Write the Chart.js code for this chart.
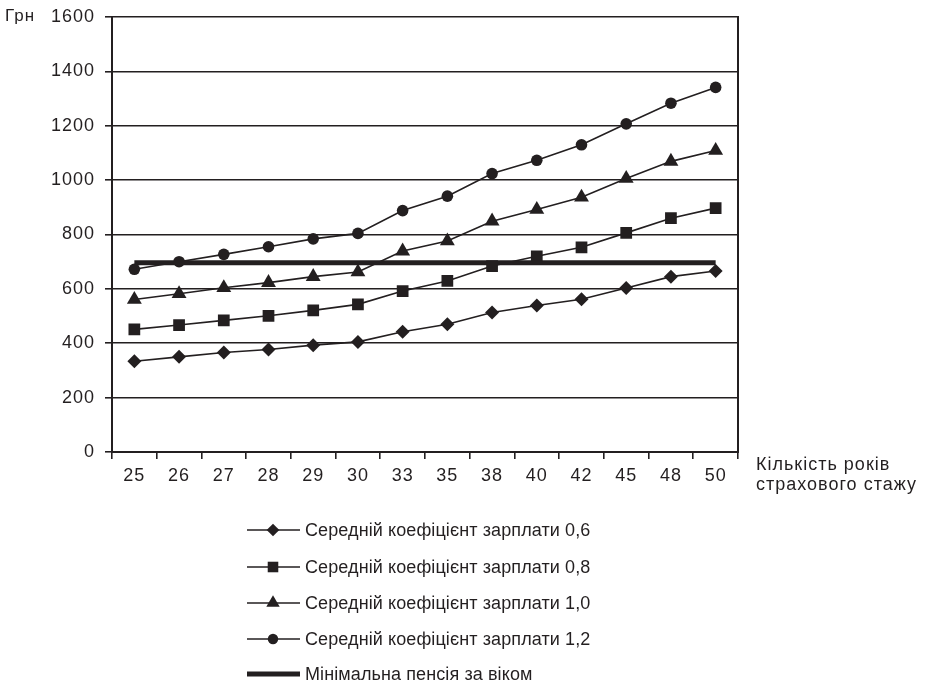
<!DOCTYPE html>
<html>
<head>
<meta charset="utf-8">
<script src="https://cdn.jsdelivr.net/npm/chart.js"></script>
<style>
  html, body { margin: 0; padding: 0; background: #fff; }
</style>
</head>
<body>
<canvas id="pensiones" width="925" height="684"></canvas>
<script>
// Кількість років страхового стажу
const anios = ["25","26","27","28","29","30","33","35","38","40","42","45","48","50"];

// Середній коефіцієнт зарплати 0,6 / 0,8 / 1,0 / 1,2 (грн)
const coef06 = [334, 350, 366, 377, 393, 405, 442, 470, 513, 539, 562, 603, 645, 666];
const coef08 = [451, 467, 484, 501, 521, 543, 592, 629, 684, 720, 753, 806, 860, 897];
const coef10 = [561, 582, 604, 623, 645, 662, 739, 776, 849, 892, 937, 1006, 1069, 1109];
const coef12 = [672, 700, 727, 755, 784, 804, 888, 941, 1024, 1073, 1130, 1207, 1283, 1341];
// Мінімальна пенсія за віком
const minima = [696, 696, 696, 696, 696, 696, 696, 696, 696, 696, 696, 696, 696, 696];

const etiquetas = [
  "Середній коефіцієнт зарплати 0,6",
  "Середній коефіцієнт зарплати 0,8",
  "Середній коефіцієнт зарплати 1,0",
  "Середній коефіцієнт зарплати 1,2",
  "Мінімальна пенсія за віком"
];

const INK = "#231f20";
const FUENTE = "'Liberation Sans', Arial, Helvetica, sans-serif";

// Espaciado de letras como en el original
const espaciado = {
  id: "espaciado",
  beforeUpdate(chart) { chart.ctx.letterSpacing = "1px"; },
  beforeDraw(chart) { chart.ctx.letterSpacing = "1px"; }
};

// Textos sueltos y leyenda vertical debajo del gráfico
const extras = {
  id: "extras",
  afterDraw(chart) {
    const ctx = chart.ctx;
    ctx.save();
    ctx.letterSpacing = "1px";
    ctx.fillStyle = INK;
    ctx.strokeStyle = INK;
    ctx.font = "17px " + FUENTE;
    ctx.textBaseline = "middle";
    ctx.textAlign = "left";
    ctx.fillText("Грн", 5, 16);
    ctx.font = "18px " + FUENTE;
    ctx.fillText("Кількість років", 756, 465);
    ctx.fillText("страхового стажу", 756, 485);

    // leyenda
    ctx.letterSpacing = "0.1px";
    const filas = [530, 567, 603, 639, 674];
    chart.data.datasets.forEach((ds, i) => {
      const y = filas[i];
      ctx.beginPath();
      ctx.lineWidth = ds.borderWidth;
      ctx.moveTo(247, y);
      ctx.lineTo(300, y);
      ctx.stroke();
      if (ds.pointRadius > 0 && Chart.helpers && Chart.helpers.drawPoint) {
        ctx.fillStyle = INK;
        Chart.helpers.drawPoint(ctx, {
          pointStyle: ds.pointStyle,
          radius: ds.pointRadius * 0.9,
          rotation: 0,
          borderWidth: 0
        }, 273, y);
      }
      ctx.fillStyle = INK;
      ctx.fillText(ds.label, 305, y + 1);
    });
    ctx.restore();
  }
};

const serie = (label, data, estilo, radio) => ({
  label: label,
  data: data,
  borderColor: INK,
  backgroundColor: INK,
  borderWidth: 1.6,
  pointStyle: estilo,
  pointRadius: radio,
  pointHoverRadius: radio,
  pointBackgroundColor: INK,
  pointBorderWidth: 0,
  tension: 0
});

const grafico = new Chart(document.querySelector("#pensiones"), {
  type: "line",
  data: {
    labels: anios,
    datasets: [
      serie(etiquetas[0], coef06, "rectRot", 7),
      serie(etiquetas[1], coef08, "rect", 8.3),
      serie(etiquetas[2], coef10, "triangle", 8.6),
      serie(etiquetas[3], coef12, "circle", 5.8),
      {
        label: etiquetas[4],
        data: minima,
        borderColor: INK,
        borderWidth: 5,
        pointRadius: 0,
        tension: 0
      }
    ]
  },
  options: {
    responsive: false,
    animation: false,
    devicePixelRatio: 1,
    layout: { padding: { top: 17, right: 187, left: 0, bottom: 0 } },
    plugins: {
      legend: { display: false },
      tooltip: { enabled: false }
    },
    scales: {
      x: {
        offset: true,
        grid: { offset: true, drawOnChartArea: false, tickLength: 7, color: INK, lineWidth: 1.6 },
        border: { color: INK, width: 2 },
        ticks: { color: INK, font: { family: FUENTE, size: 18 }, padding: 6, maxRotation: 0 },
        afterFit: (s) => { s.height = 232; s.paddingLeft = 0; s.paddingRight = 0; }
      },
      y: {
        min: 0,
        max: 1600,
        ticks: {
          stepSize: 200, color: INK, font: { family: FUENTE, size: 18 }, padding: 10,
          callback: (v) => String(v)
        },
        grid: { color: INK, lineWidth: 1.6, tickLength: 7 },
        border: { color: INK, width: 2 },
        afterFit: (s) => { s.width = 112; s.paddingTop = 0; s.paddingBottom = 0; }
      },
      yDer: {
        position: "right",
        min: 0,
        max: 1600,
        ticks: { display: false },
        grid: { display: false, drawTicks: false },
        border: { color: INK, width: 2 },
        afterFit: (s) => { s.width = 0; s.paddingTop = 0; s.paddingBottom = 0; }
      }
    }
  },
  plugins: [espaciado, extras]
});
</script>
</body>
</html>
